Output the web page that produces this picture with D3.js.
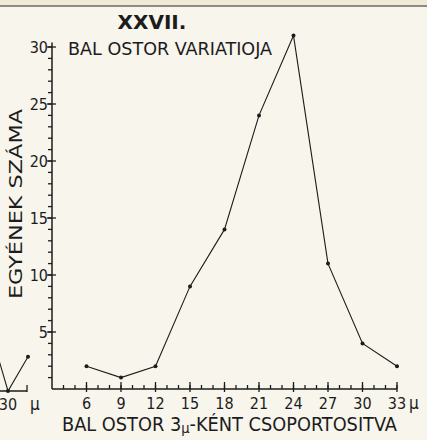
<!DOCTYPE html>
<html>
<head>
<meta charset="utf-8">
<script src="https://cdn.jsdelivr.net/npm/d3@7"></script>
<style>
  body { margin: 0; background: #f7f5ec; }
  svg { display: block; }
  text { font-family: "DejaVu Sans Condensed", "Liberation Sans Narrow", sans-serif; fill: #1c1c1c; }
</style>
</head>
<body>
<svg id="chart" width="427" height="440"></svg>
<script>
// grouped flagellum length (micron) and number of individuals
const lengths = [6, 9, 12, 15, 18, 21, 24, 27, 30, 33];
const counts = [2, 1, 2, 9, 14, 24, 31, 11, 4, 2];
const yTicks = [5, 10, 15, 20, 25, 30];
const yMinor = d3.range(1, 31);
const xMinor = d3.range(4, 34);

// cut-off piece of the neighbouring chart on the left edge
const fragLengths = [28, 30, 32];
const fragCounts = [6, 0, 3];

const ink = "#1c1c1c";
const svg = d3.select("#chart");

// scan edge at the top
svg.append("rect").attr("x", 0).attr("y", 0).attr("width", 427).attr("height", 6).attr("fill", "#efe9d6");
svg.append("line").attr("x1", 0).attr("x2", 427).attr("y1", 6).attr("y2", 6)
  .attr("stroke", "#6a6a64").attr("stroke-width", 1.4);

const x = d3.scaleLinear().domain([3, 33]).range([52, 397]);
const y = d3.scaleLinear().domain([0, 30]).range([389, 47]);
const x0 = x(3), y0 = y(0);

const axes = svg.append("g").attr("stroke", ink).attr("stroke-width", 1.3);

// y axis
axes.append("line").attr("x1", x0).attr("x2", x0).attr("y1", y0).attr("y2", y(30.4)).attr("stroke-width", 1.5);
axes.append("g").selectAll("line").data(yMinor).join("line")
  .attr("x1", x0 - 4).attr("x2", x0).attr("y1", d => y(d)).attr("y2", d => y(d));
axes.append("g").selectAll("line").data(yTicks).join("line")
  .attr("x1", x0 - 5).attr("x2", x0 + 4).attr("y1", d => y(d)).attr("y2", d => y(d));
svg.append("g").selectAll("text").data(yTicks).join("text")
  .attr("x", x0 - 4).attr("y", d => y(d)).attr("dy", "0.36em")
  .attr("text-anchor", "end").attr("font-size", 16).text(d => d);

// x axis
axes.append("line").attr("x1", x0).attr("x2", x(33)).attr("y1", y0).attr("y2", y0).attr("stroke-width", 1.5);
axes.append("g").selectAll("line").data(xMinor).join("line")
  .attr("x1", d => x(d)).attr("x2", d => x(d)).attr("y1", y0 - 4).attr("y2", y0);
axes.append("g").selectAll("line").data(lengths).join("line")
  .attr("x1", d => x(d)).attr("x2", d => x(d)).attr("y1", y0 - 7).attr("y2", y0 + 3);
svg.append("g").selectAll("text").data(lengths).join("text")
  .attr("x", d => x(d)).attr("y", 409)
  .attr("text-anchor", "middle").attr("font-size", 16).text(d => d);

svg.append("text").attr("x", 409).attr("y", 409).attr("font-size", 17).text("μ");

// data line
const line = d3.line().x((d, i) => x(lengths[i])).y(d => y(d));
svg.append("path").datum(counts).attr("d", line)
  .attr("fill", "none").attr("stroke", ink).attr("stroke-width", 1.1);
svg.append("g").selectAll("circle").data(counts).join("circle")
  .attr("cx", (d, i) => x(lengths[i])).attr("cy", d => y(d)).attr("r", 2).attr("fill", ink);

// fragment of the previous chart
const fx = d3.scaleLinear().domain([28, 32]).range([-12, 28]);
const fy = d3.scaleLinear().domain([0, 30]).range([391, 49]);
axes.append("line").attr("x1", 0).attr("x2", fx(31.9)).attr("y1", fy(0)).attr("y2", fy(0)).attr("stroke-width", 1.5);
axes.append("line").attr("x1", fx(31.9)).attr("x2", fx(31.9)).attr("y1", fy(0) - 6).attr("y2", fy(0) + 1);
svg.append("path").datum(fragCounts)
  .attr("d", d3.line().x((d, i) => fx(fragLengths[i])).y(d => fy(d)))
  .attr("fill", "none").attr("stroke", ink).attr("stroke-width", 1.1);
svg.append("g").selectAll("circle").data(fragCounts.slice(1)).join("circle")
  .attr("cx", (d, i) => fx(fragLengths[i + 1])).attr("cy", d => fy(d)).attr("r", 2).attr("fill", ink);
svg.append("text").attr("x", fx(30)).attr("y", 410).attr("text-anchor", "middle").attr("font-size", 16).text("30");
svg.append("text").attr("x", 30).attr("y", 410).attr("font-size", 17).text("μ");

// titles
svg.append("text").attr("x", 152).attr("y", 29).attr("text-anchor", "middle")
  .attr("font-size", 20).attr("font-weight", "bold")
  .style("font-family", '"DejaVu Sans", sans-serif').text("XXVII.");
svg.append("text").attr("x", 68).attr("y", 55).attr("font-size", 17)
  .attr("textLength", 204).attr("lengthAdjust", "spacingAndGlyphs").text("BAL OSTOR VARIATIOJA");

const xl = svg.append("text").attr("x", 62).attr("y", 431).attr("font-size", 19)
  .attr("textLength", 335).attr("lengthAdjust", "spacingAndGlyphs");
xl.append("tspan").text("BAL OSTOR 3");
xl.append("tspan").attr("font-size", 14).attr("dy", 2).text("μ");
xl.append("tspan").attr("dy", -2).text("-KÉNT CSOPORTOSITVA");

svg.append("text").attr("transform", "translate(22,204) rotate(-90)")
  .attr("text-anchor", "middle").attr("font-size", 17)
  .attr("textLength", 190).attr("lengthAdjust", "spacingAndGlyphs").text("EGYÉNEK SZÁMA");
</script>
</body>
</html>
